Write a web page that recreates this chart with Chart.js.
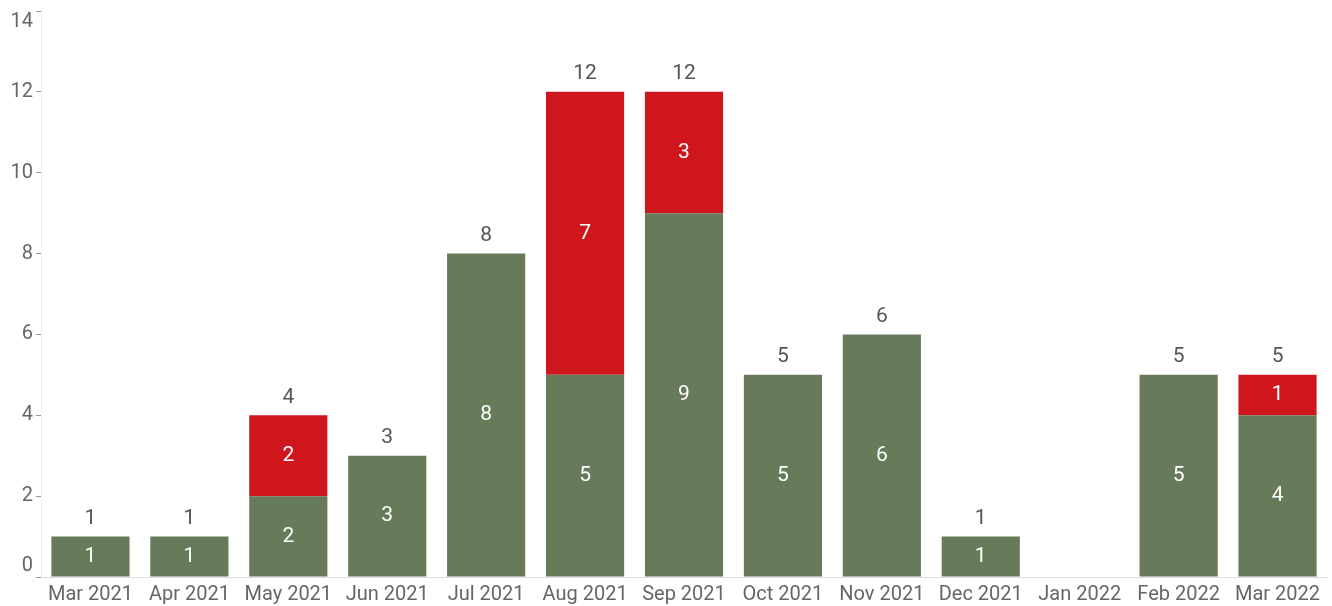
<!DOCTYPE html>
<html>
<head>
<meta charset="utf-8">
<script src="https://cdn.jsdelivr.net/npm/chart.js@4.4.1/dist/chart.umd.min.js"></script>
<style>
  html, body { margin: 0; padding: 0; background: #fff; }
  #wrap { width: 1332px; height: 606px; position: relative; }
</style>
</head>
<body>
<div id="wrap"><canvas id="chart"></canvas></div>
<script>
  const months = ['Mar 2021', 'Apr 2021', 'May 2021', 'Jun 2021', 'Jul 2021', 'Aug 2021', 'Sep 2021',
    'Oct 2021', 'Nov 2021', 'Dec 2021', 'Jan 2022', 'Feb 2022', 'Mar 2022']
  const greenValues = [1, 1, 2, 3, 8, 5, 9, 5, 6, 1, 0, 5, 4]
  const redValues = [0, 0, 2, 0, 0, 7, 3, 0, 0, 0, 0, 0, 1]
  const yTicks = [0, 2, 4, 6, 8, 10, 12, 14]

  const FONT = 'Roboto, "Liberation Sans", sans-serif'

  // labels inside segments and totals on top
  const barLabels = {
    id: 'barLabels',
    afterDatasetsDraw(chart) {
      const ctx = chart.ctx
      ctx.save()
      ctx.font = '21px ' + FONT
      ctx.textAlign = 'center'
      ctx.textBaseline = 'middle'
      const metas = chart.data.datasets.map((d, i) => chart.getDatasetMeta(i))
      months.forEach((m, i) => {
        let topY = null
        let total = 0
        metas.forEach((meta, di) => {
          const v = chart.data.datasets[di].data[i]
          if (!v) return
          const bar = meta.data[i]
          total += v
          ctx.fillStyle = '#ffffff'
          ctx.fillText(String(v), bar.x, (bar.y + bar.base) / 2)
          topY = topY === null ? bar.y : Math.min(topY, bar.y)
        })
        if (total > 0) {
          ctx.fillStyle = '#555555'
          ctx.fillText(String(total), metas[0].data[i].x, topY - 18)
        }
      })
      ctx.restore()
    }
  }

  const yMin = yTicks[0]
  const yMax = yTicks[yTicks.length - 1]

  new Chart(document.getElementById('chart'), {
    type: 'bar',
    data: {
      labels: months,
      datasets: [
        { data: greenValues, backgroundColor: '#677b5a', stack: 's' },
        { data: redValues, backgroundColor: '#cf161c', stack: 's' }
      ]
    },
    options: {
      responsive: true,
      maintainAspectRatio: false,
      animation: false,
      layout: { padding: { top: 0, right: 5, left: 0, bottom: 0 } },
      datasets: { bar: { categoryPercentage: 0.79, barPercentage: 1 } },
      plugins: {
        legend: { display: false },
        tooltip: { enabled: false }
      },
      scales: {
        x: {
          stacked: true,
          grid: { display: false, drawTicks: false },
          border: { color: '#dddddd', width: 1 },
          ticks: { color: '#666666', font: { family: FONT, size: 20 }, padding: 6, maxRotation: 0 },
          afterFit(scale) { scale.height = 29 }
        },
        y: {
          stacked: true,
          min: yMin,
          max: yMax,
          afterBuildTicks(scale) { scale.ticks = yTicks.map(v => ({ value: v })) },
          grid: { drawOnChartArea: false, drawTicks: true, tickLength: 5, tickColor: '#999999' },
          border: { color: '#eeeeee', width: 1 },
          ticks: {
            color: '#666666',
            font: { family: FONT, size: 20, lineHeight: 1.1 },
            padding: 3,
            // end labels are pushed inside the plot, like the original
            callback(v) {
              if (v === yMax) return ['', String(v)]
              if (v === yMin) return [String(v), '']
              return String(v)
            }
          },
          afterFit(scale) {
            scale.width = 41
            scale.paddingTop = 11
            scale.paddingBottom = 0
          }
        }
      }
    },
    plugins: [barLabels]
  })
</script>
</body>
</html>
